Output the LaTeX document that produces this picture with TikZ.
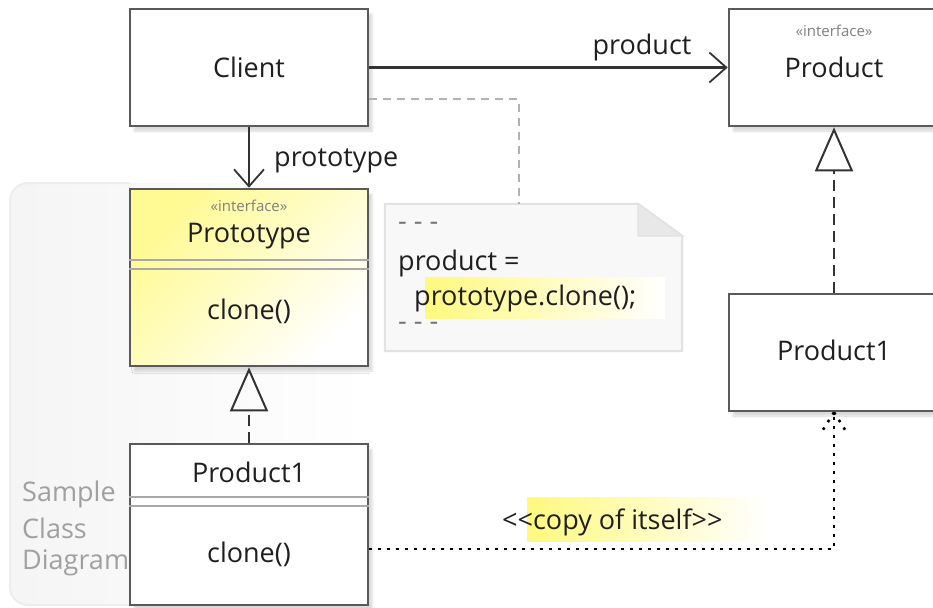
\documentclass[tikz,border=0pt]{standalone}
\usepackage{fontspec}
\setmainfont{Open Sans}
\usetikzlibrary{arrows.meta, shadows.blur, calc}

\definecolor{boxline}{HTML}{5A5A5A}
\definecolor{conn}{HTML}{333333}
\definecolor{hlyellow}{HTML}{FFF97E}
\definecolor{notefill}{HTML}{F8F8F8}
\definecolor{noteline}{HTML}{E2E2E2}
\definecolor{sepline}{HTML}{A8A8A8}
\definecolor{faint}{HTML}{A0A0A0}

\tikzset{
  umlbox/.style={draw=boxline, line width=2.6pt, fill=white, rectangle, inner sep=0pt,
    blur shadow={shadow xshift=4pt, shadow yshift=-5pt, shadow blur steps=6, shadow opacity=15}},
  txt/.style={font=\fontsize{27}{32}\selectfont, text=black!88, inner sep=0pt},
  stereo/.style={font=\fontsize{15}{18}\selectfont, text=black!50, inner sep=0pt},
  sepln/.style={draw=sepline, line width=2.2pt},
  assoc/.style={draw=conn, line width=2.4pt,
    -{Straight Barb[length=17pt, width=30pt, line width=1.8pt]}},
  genline/.style={draw=conn, line width=2.4pt, dash pattern=on 11pt off 6pt,
    -{Triangle[open, length=44pt, width=38pt, line width=2pt]}},
  notelink/.style={draw=black!30, line width=2pt, dash pattern=on 8pt off 6pt},
  dotline/.style={draw=black, line width=2.6pt, dash pattern=on 2.6pt off 6.4pt},
  hlbar/.style={left color=hlyellow, right color=white, draw=none, inner sep=0pt},
}

\begin{document}
\begin{tikzpicture}[x=1pt, y=-1pt]
\useasboundingbox (0,0) rectangle (933,607);

% frame of the sample diagram
\shade[left color=black!4, right color=white, rounded corners=18pt]
  (10,183) rectangle (370,605);
\draw[black!7, line width=2pt, rounded corners=18pt]
  (130,183) -- (10,183) -- (10,605) -- (130,605);
\node[txt, text=faint, anchor=west] (lblA) at (22,494) {Sample};
\node[txt, text=faint, anchor=west] (lblB) at (22,528) {Class};
\node[txt, text=faint, anchor=west] (lblC) at (22,563) {Diagram};

% note with folded corner
\node[minimum width=297pt, minimum height=147pt, inner sep=0pt] (note) at (533.5,277.5) {};
\filldraw[fill=notefill, draw=noteline, line width=2pt]
  (note.north west) -- ([xshift=-44pt]note.north east) -- ([yshift=-32pt]note.north east)
  -- (note.south east) -- (note.south west) -- cycle;
\filldraw[fill=black!9, draw=noteline, line width=1.5pt]
  ([xshift=-44pt]note.north east) -- ([xshift=-44pt,yshift=-32pt]note.north east)
  -- ([yshift=-32pt]note.north east) -- cycle;
\node[hlbar, minimum width=240pt, minimum height=41pt] (hlA) at (545,297.5) {};
\node[txt, text=black!55, anchor=west] (nA) at (398,226) {- - -};
\node[txt, anchor=west] (nB) at (398,263) {product =};
\node[txt, anchor=west] (nC) at (414,298) {prototype.clone();};
\node[txt, text=black!55, anchor=west] (nD) at (398,326) {- - -};

% classes
\node[umlbox, minimum width=238pt, minimum height=117pt] (client) at (249,67.5) {};
\node[txt] (clientT) at (249,67) {Client};

\node[umlbox, minimum width=238pt, minimum height=177pt,
  top color=hlyellow!85, middle color=yellow!4, bottom color=white, shading angle=45]
  (proto) at (249,277.5) {};
\draw[sepln] ([yshift=-72.5pt]proto.north west) -- ([yshift=-72.5pt]proto.north east);
\draw[sepln] ([yshift=-81pt]proto.north west) -- ([yshift=-81pt]proto.north east);
\node[stereo] (protoS) at (249,206) {«interface»};
\node[txt] (protoT) at (249,236) {Prototype};
\node[txt] (protoM) at (249,311) {clone()};

\node[umlbox, minimum width=238pt, minimum height=161pt] (pa) at (249,524.5) {};
\draw[sepln] ([yshift=-54pt]pa.north west) -- ([yshift=-54pt]pa.north east);
\draw[sepln] ([yshift=-63pt]pa.north west) -- ([yshift=-63pt]pa.north east);
\node[txt] (paT) at (249,472) {Product1};
\node[txt] (paM) at (249,554) {clone()};

\node[umlbox, minimum width=210pt, minimum height=117pt] (product) at (834,67.5) {};
\node[stereo] (productS) at (834,31) {«interface»};
\node[txt] (productT) at (834,67) {Product};

\node[umlbox, minimum width=210pt, minimum height=117pt] (pb) at (834,352.5) {};
\node[txt] (pbT) at (834,350) {Product1};

% connectors
\draw[assoc] (client.south) -- (proto.north);
\node[txt, anchor=west] (protoL) at (274,161) {prototype};
\draw[assoc] (client.east) -- (product.west);
\node[txt] (productL) at (642,47) {product};

\draw[genline] (pa.north) -- (proto.south);
\draw[genline] (pb.north) -- (product.south);

\draw[notelink] ([yshift=28pt]client.south east) -| ([xshift=-14.5pt]note.north);

\coordinate (copyfrom) at ([yshift=-24.5pt]pa.east);
\draw[dotline] (copyfrom) -| (pb.south);
\draw[dotline] (pb.south) -- ++(-12,19);
\draw[dotline] (pb.south) -- ++(12,19);
\node[hlbar, minimum width=240pt, minimum height=44pt] (hlB) at (647,519) {};
\node[txt, anchor=west] (copyL) at (502,522) {{<}{<}copy of itself{>}{>}};
\end{tikzpicture}
\end{document}
